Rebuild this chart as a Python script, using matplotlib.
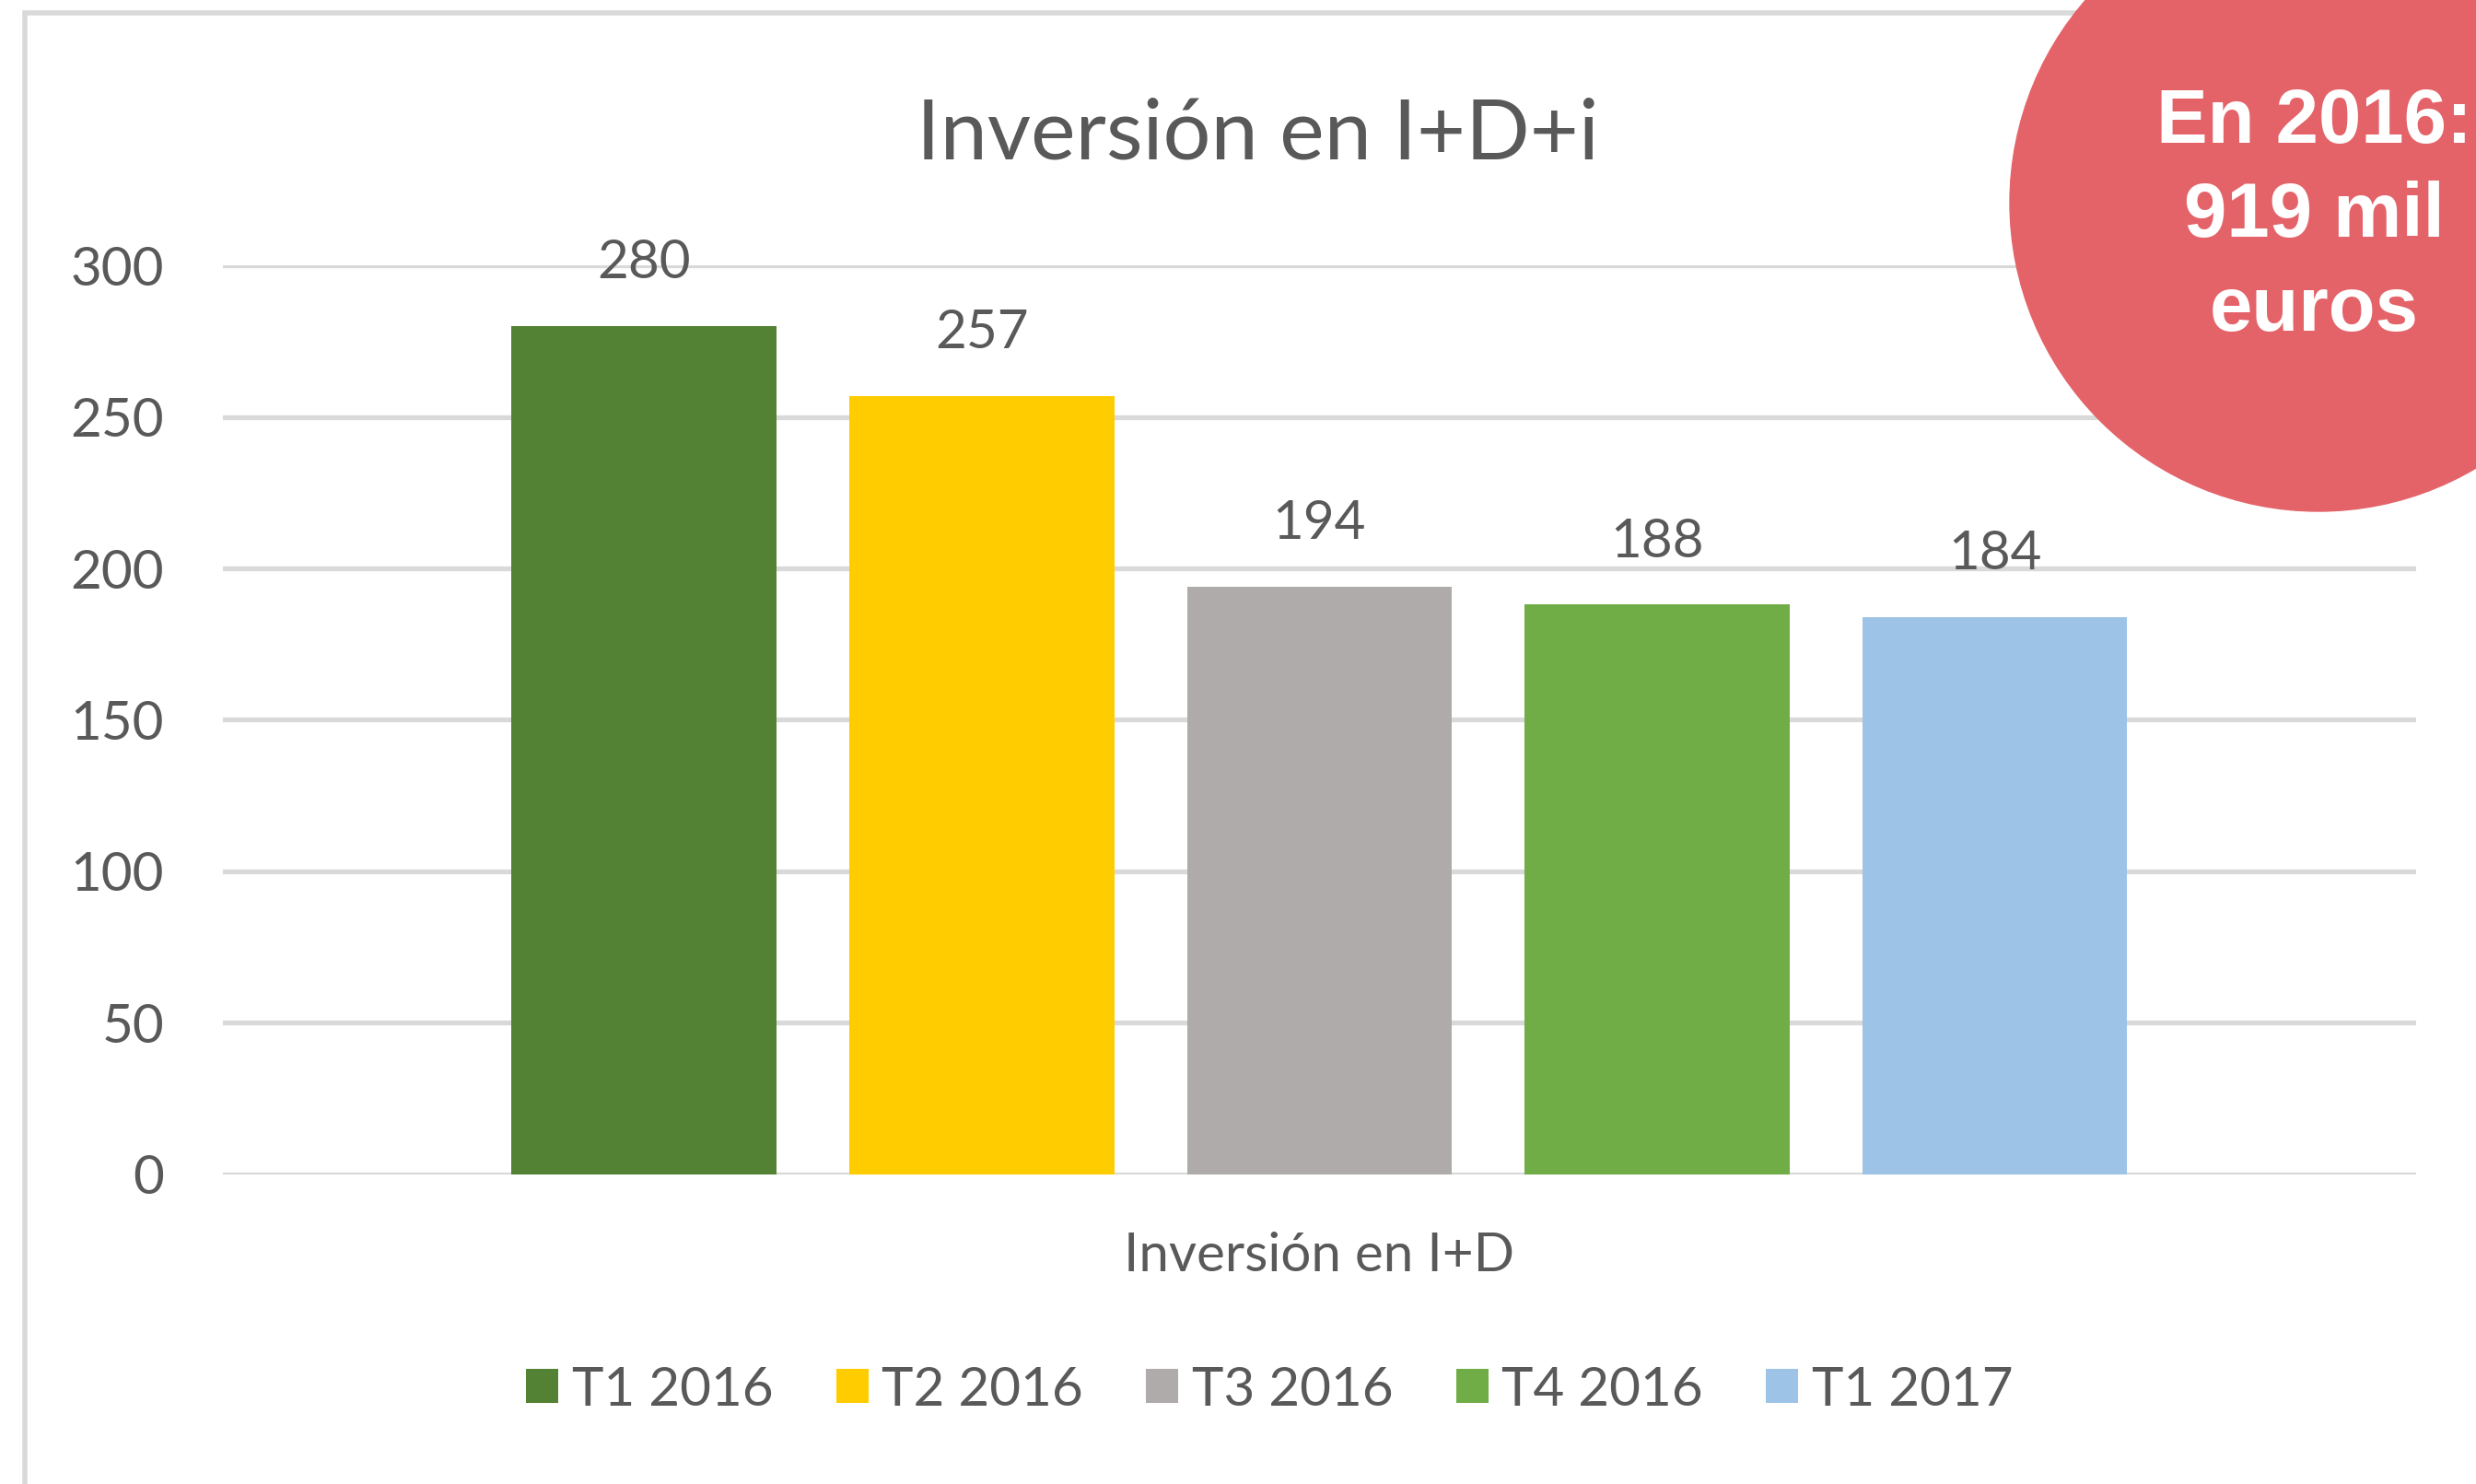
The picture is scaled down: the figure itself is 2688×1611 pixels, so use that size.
import numpy as np
import matplotlib.pyplot as plt
from matplotlib.patches import Rectangle, Circle

plt.rcParams['font.family'] = ['Lato', 'DejaVu Sans']

######## data
series = ['T1 2016', 'T2 2016', 'T3 2016', 'T4 2016', 'T1 2017']
values = [280, 257, 194, 188, 184]
colors = ['#548235', '#FFCC00', '#AFABAB', '#70AD47', '#9DC3E6']
category = 'Inversión en I+D'
yticks = [0, 50, 100, 150, 200, 250, 300]

txt = '#595959'
grid = '#D9D9D9'

fig = plt.figure(figsize=(26.88, 16.11), dpi=100)
fig.patch.set_facecolor('white')

# chart border
fig.patches.append(Rectangle((27 / 2688, -0.05), 1.1, 1 - 14 / 1611 + 0.05,
                             transform=fig.transFigure, fill=False,
                             edgecolor=grid, lw=4, zorder=0))

ax = fig.add_axes([0.090, 0.2086, 0.8858, 0.6126])
x = np.arange(len(values))
for i in range(len(values)):
    b = ax.bar(x[i], values[i], width=0.785, color=colors[i], label=series[i], zorder=3)
    ax.bar_label(b, padding=30, fontsize=42, color=txt)

ax.set_xlim(-1.248, 5.248)
ax.set_ylim(0, 300)
ax.set_yticks(yticks)
ax.yaxis.grid(True, color=grid, lw=3.8, zorder=0)
ax.set_axisbelow(True)
for s in ax.spines.values():
    s.set_visible(False)
ax.tick_params(axis='y', length=0, pad=46, labelsize=42, labelcolor=txt)
ax.set_xticks([2])
ax.set_xticklabels([category])
ax.tick_params(axis='x', length=0, pad=45, labelsize=42, labelcolor=txt)

fig.text(0.508, 0.909, 'Inversión en I+D+i', ha='center', va='center',
         fontsize=66, color=txt)

fig.legend(loc='center', bbox_to_anchor=(0.5127, 0.0633), ncol=5, frameon=False,
           fontsize=42, labelcolor=txt, handlelength=0.6, handleheight=0.6,
           handletextpad=0.25, columnspacing=1.17)

# red circle with the yearly total (pixel coords so it stays round)
circ = Circle((2517, 1611 - 220), 335, transform=None, color='#E46369', zorder=5)
fig.patches.append(circ)
fig.text(2512 / 2688, 1 - 235 / 1611, 'En 2016:\n919 mil\neuros', ha='center',
         va='center', fontsize=60, fontweight='bold', color='white',
         family='Liberation Sans', linespacing=1.40, zorder=6)

fig.savefig('out.png', dpi=100)
